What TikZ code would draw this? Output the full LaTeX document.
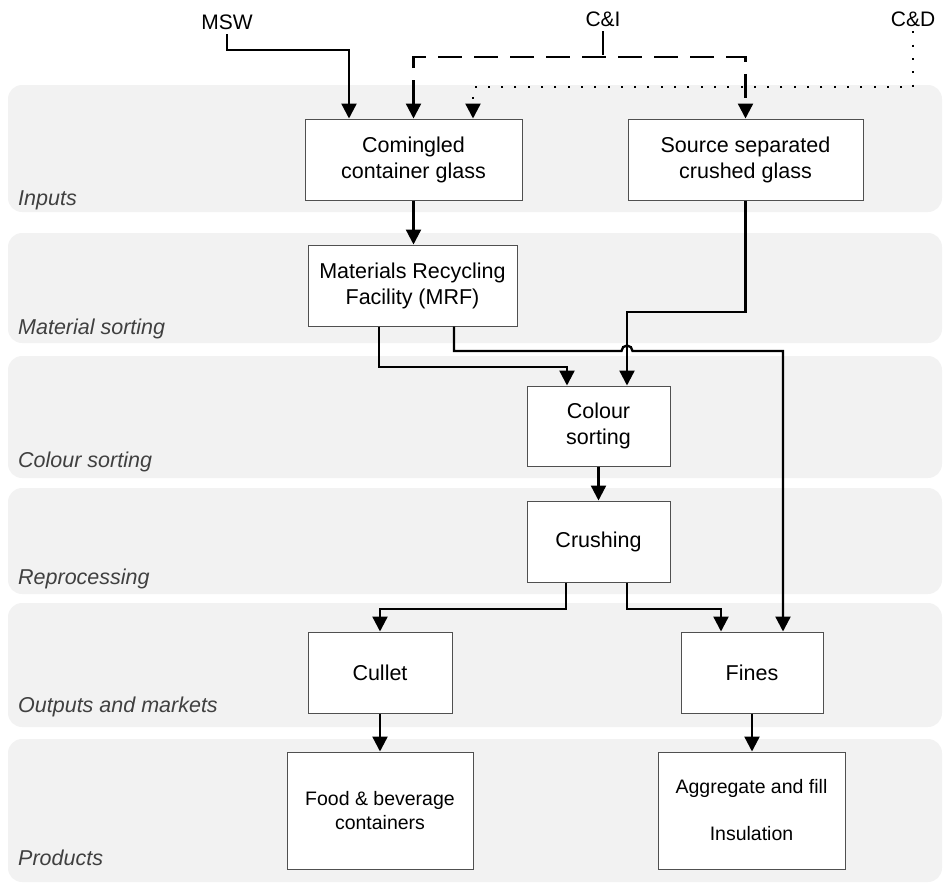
\documentclass[tikz,border=0pt]{standalone}
\usepackage{fontspec}
\setmainfont{Liberation Sans}
\usetikzlibrary{arrows.meta,calc}
\definecolor{bandfill}{HTML}{F2F2F2}
\definecolor{lblgray}{HTML}{404040}
\definecolor{boxline}{HTML}{505050}
\begin{document}
\begin{tikzpicture}[x=1pt,y=-1pt,
  bandbox/.style={fill=bandfill, rounded corners=14pt},
  stagelbl/.style={anchor=base west, inner sep=0pt, text=lblgray, font=\fontsize{21.5}{26}\selectfont\itshape},
  procbox/.style={draw=boxline, line width=1pt, fill=white, align=center, inner sep=2pt, font=\fontsize{21.5}{26}\selectfont},
  prodbox/.style={procbox, font=\fontsize{19.5}{23.5}\selectfont},
  srclbl/.style={inner xsep=0pt, inner ysep=5pt, anchor=base, font=\fontsize{21}{25}\selectfont},
  arr/.style={line width=2.3pt, -{Triangle[length=15pt,width=15pt]}},
  dashline/.style={dash pattern=on 24pt off 12pt},
  dotline/.style={dash pattern=on 2pt off 11.3pt},
]
\useasboundingbox (0,0) rectangle (945,884);

% bands
\fill[bandbox] (8,85) rectangle (942,212);
\fill[bandbox] (8,233) rectangle (942,343);
\fill[bandbox] (8,356) rectangle (942,478);
\fill[bandbox] (8,488) rectangle (942,594);
\fill[bandbox] (8,603) rectangle (942,727);
\fill[bandbox] (8,739) rectangle (942,882);

% stage labels
\node[stagelbl] (s1) at (18,205) {Inputs};
\node[stagelbl] (s2) at (18,334) {Material sorting};
\node[stagelbl] (s3) at (18,467) {Colour sorting};
\node[stagelbl] (s4) at (18,584) {Reprocessing};
\node[stagelbl] (s5) at (18,712) {Outputs and markets};
\node[stagelbl] (s6) at (18,865) {Products};

% source labels
\node[srclbl] (msw) at (227,29) {MSW};
\node[srclbl] (ci) at (603,26) {C\&I};
\node[srclbl] (cd) at (913,26) {C\&D};

% boxes
\node[procbox, minimum width=217pt, minimum height=81pt] (com) at (413.5,159.5) {Comingled\\container glass};
\node[procbox, minimum width=235pt, minimum height=81pt] (src) at (745.5,159.5) {Source separated\\crushed glass};
\node[procbox, minimum width=209pt, minimum height=81pt] (mrf) at (412.5,285.5) {Materials Recycling\\Facility (MRF)};
\node[procbox, minimum width=143pt, minimum height=80pt] (col) at (598.5,426) {Colour\\sorting};
\node[procbox, minimum width=143pt, minimum height=81pt] (cru) at (598.5,541.5) {Crushing};
\node[procbox, minimum width=144pt, minimum height=81pt] (cul) at (380,672.5) {Cullet};
\node[procbox, minimum width=142pt, minimum height=81pt] (fin) at (752,672.5) {Fines};
\node[prodbox, minimum width=186pt, minimum height=117pt] (food) at (380,810.5) {Food \& beverage\\containers};
\node[prodbox, minimum width=187pt, minimum height=117pt] (agg) at (751.5,810.5) {Aggregate and fill\\[23.5pt]Insulation};

% helper levels and ports
\coordinate (L1) at (0,50);
\coordinate (L2) at (0,57);
\coordinate (L3) at (0,87);
\coordinate (L4) at (0,312);
\coordinate (L5) at (0,367);
\coordinate (L6) at (0,351);
\coordinate (L7) at (0,609);
\coordinate (comA) at ([xshift=-64.5pt]com.north);
\coordinate (comC) at ([xshift=59.5pt]com.north);
\coordinate (mrfL) at ([xshift=-33.5pt]mrf.south);
\coordinate (mrfR) at ([xshift=41.5pt]mrf.south);
\coordinate (colL) at ([xshift=-31.5pt]col.north);
\coordinate (colR) at ([xshift=28.5pt]col.north);
\coordinate (cruL) at ([xshift=-32.5pt]cru.south);
\coordinate (cruR) at ([xshift=28.5pt]cru.south);
\coordinate (finL) at ([xshift=-31pt]fin.north);
\coordinate (finR) at ([xshift=31pt]fin.north);
\coordinate (jmp) at (L6 -| colR);

% inputs
\draw[arr] (msw.south) |- (L1 -| comA) -- (comA);
\draw[line width=2.3pt, dashline] (ci.south) -- (ci.south |- L2);
\draw[line width=2.3pt, dashline, {Triangle[length=15pt,width=15pt]}-{Triangle[length=15pt,width=15pt]}]
  (com.north) |- (L2 -| src.north) -- (src.north);
\draw[arr, dotline] (cd.south) |- (L3 -| comC) -- (comC);

% flow
\draw[arr] (com.south) -- (com.south |- mrf.north);
\draw[arr] (src.south) |- (L4 -| colR) -- (colR);
\draw[arr] (mrfL) |- (L5 -| colL) -- (colL);
\draw[arr] (mrfR) |- ([xshift=-5.5pt]jmp) arc[start angle=180, end angle=0, radius=5.5pt] -| (finR);
\draw[arr] (col.south) -- (cru.north);
\draw[arr] (cruL) |- (L7 -| cul.north) -- (cul.north);
\draw[arr] (cruR) |- (L7 -| finL) -- (finL);
\draw[arr] (cul.south) -- (food.north);
\draw[arr] (fin.south) -- (fin.south |- agg.north);
\end{tikzpicture}
\end{document}
